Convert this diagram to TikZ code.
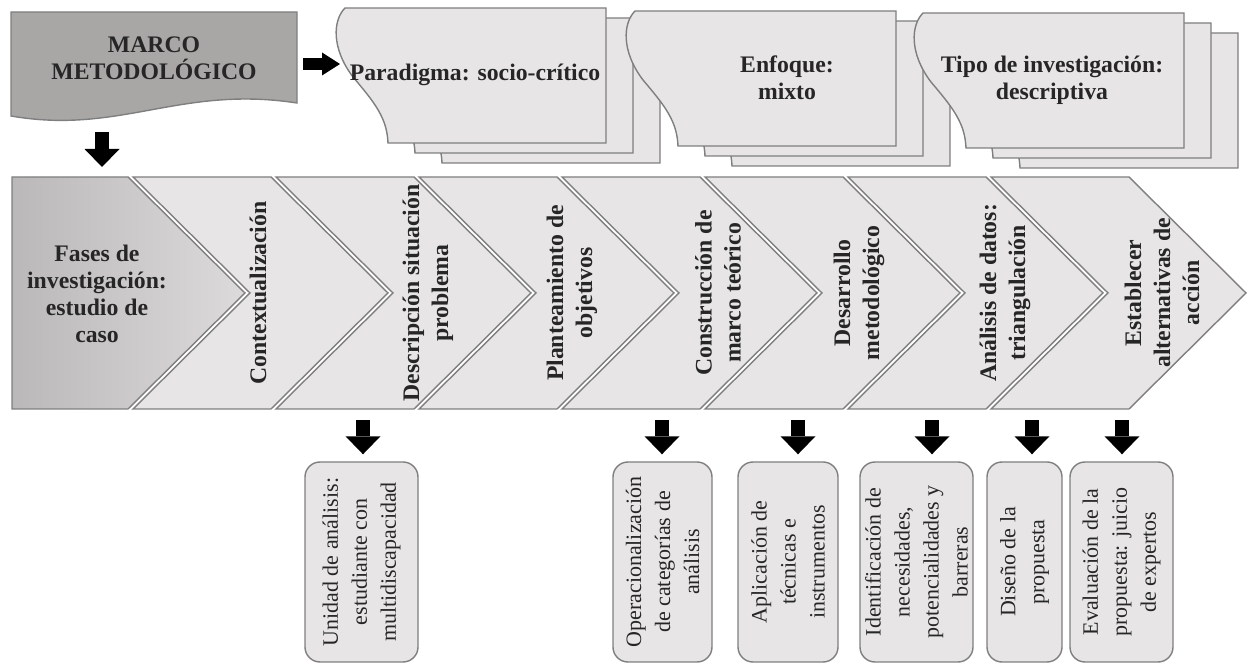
\documentclass[tikz,border=0pt]{standalone}
\usepackage{fontspec}
\setmainfont{Liberation Serif}
\usetikzlibrary{arrows.meta}
\definecolor{cardfill}{HTML}{E7E5E5}
\definecolor{edgegray}{HTML}{7F7F7F}
\definecolor{marcofill}{HTML}{A9A6A6}
\definecolor{firstdark}{HTML}{BAB8B8}
\definecolor{firstlight}{HTML}{DCDADA}
\begin{document}
\begin{tikzpicture}[x=0.2mm,y=-0.2mm]
        \tikzstyle{head text}=[font=\fontsize{13.5}{15.5}\selectfont\bfseries,align=center,text=black!85]
        \tikzstyle{phase text}=[head text,font=\fontsize{13.5}{16.5}\selectfont\bfseries,rotate=90]
        \tikzstyle{task box}=[draw=edgegray,line width=0.8pt,fill=cardfill,rounded corners=3mm,rotate=90,minimum width=40mm,align=center,inner sep=1pt,font=\fontsize{12.5}{16.5}\selectfont,text=black!85]
        \tikzstyle{shape line}=[draw=edgegray,line width=0.8pt,fill=cardfill]
        \tikzstyle{block arrow}=[line width=2.8mm,-{Triangle[width=7mm,length=3.6mm,line width=0pt]}]

        \useasboundingbox (0,0) rectangle (1248,664);

        \draw[shape line,fill=marcofill] (11,12) -- (297,12) -- (297,103) .. controls (180,85) and (120,135) .. (11,116) -- cycle;
        \node[head text] (marco) at (154,58) {MARCO\\METODOLÓGICO};

        \foreach \X/\Y/\nm/\txt/\tx in {335/8/par/{Paradigma: socio-crítico}/475,625/11/enf/{Enfoque:\\mixto}/787,913/13/tip/{Tipo de investigación:\\descriptiva}/1052}{
          \foreach \d in {2,1,0}{
            \begin{scope}[shift={({\X+27*\d},{\Y+10*\d})}]
              \draw[shape line] (10,0) -- (271,0) -- (271,135) -- (53,135) .. controls (52,110) and (40,95) .. (18,69) .. controls (-4,40) and (-2,12) .. (10,0) -- cycle;
            \end{scope}
          }
          \node[head text] (\nm) at (\tx,\Y+67) {\txt};
        }

        \draw[shape line,left color=firstdark,right color=firstlight] (12,177) -- (128,177) -- (245,293) -- (128,409) -- (12,409) -- cycle;
        \node[head text] (phase0) at (97,294) {Fases de\\investigación:\\estudio de\\caso};

        \foreach \txt/\cx [count=\k] in {Contextualización/258,{Descripción situación\\problema}/428,{Planteamiento de\\objetivos}/572,{Construcción de\\marco teórico}/718,{Desarrollo\\metodológico}/859,{Análisis de datos:\\triangulación}/1005,{Establecer\\alternativas de\\acción}/1162}{
          \pgfmathsetmacro\tipA{245+143*(\k-1)}
          \pgfmathsetmacro\tipB{245+143*\k}
          \draw[shape line] (\tipA-112,177) -- (\tipB-117,177) -- (\tipB,293) -- (\tipB-117,409) -- (\tipA-112,409) -- (\tipA+5,293) -- cycle;
          \node[phase text] (phase\k) at (\cx,293) {\txt};
        }

        \node[task box,minimum height=22.6mm] (unit) at (361.5,562) {Unidad de análisis:\\estudiante con\\multidiscapacidad};
        \node[task box,minimum height=19.8mm] (oper) at (662.5,562) {Operacionalización\\de categorías de\\análisis};
        \node[task box,minimum height=20mm] (apl) at (788,562) {Aplicación de\\técnicas e\\instrumentos};
        \node[task box,minimum height=22.6mm] (iden) at (916.5,562) {Identificación de\\necesidades,\\potencialidades y\\barreras};
        \node[task box,minimum height=15mm] (dis) at (1024.5,562) {Diseño de la\\propuesta};
        \node[task box,minimum height=20.6mm] (eval) at (1121.5,562) {Evaluación de la\\propuesta: juicio\\de expertos};

        \coordinate (r0) at (303,64);
        \coordinate (r1) at (340,64);
        \draw[block arrow,line width=2.4mm,-{Triangle[width=4.6mm,length=3.6mm,line width=0pt]}] (r0) -- (r1);
        \coordinate (m0) at (102,132);
        \coordinate (m1) at (102,167);
        \draw[block arrow] (m0) -- (m1);
        \foreach \ax/\bx in {363/unit,662/oper,798/apl,932/iden,1032/dis,1122/eval}{
          \coordinate (d\bx) at (\ax,420);
          \draw[block arrow,shorten >=1.4mm] (d\bx) -- (d\bx |- \bx.east);
        }
\end{tikzpicture}
\end{document}
